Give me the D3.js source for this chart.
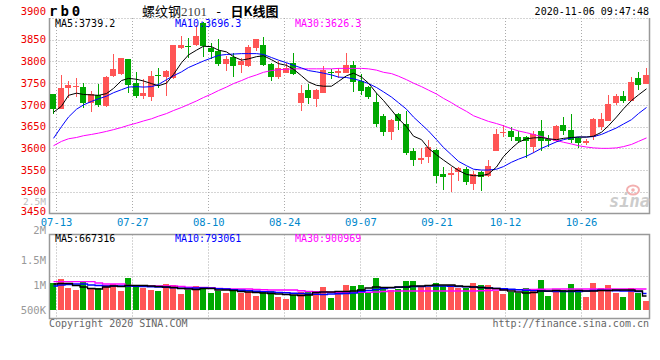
<!DOCTYPE html>
<html><head><meta charset="utf-8">
<script src="https://cdn.jsdelivr.net/npm/d3@7"></script>
<style>
html,body{margin:0;padding:0;background:#fff;}
svg{display:block;}
text{font-family:"DejaVu Sans Mono",monospace;}
</style></head>
<body>
<svg id="chart" width="660" height="360"></svg>
<script>
// ---------------- data ----------------
const dates = ["07-10",
"07-13","07-14","07-15","07-16","07-17","07-20","07-21","07-22","07-23","07-24",
"07-27","07-28","07-29","07-30","07-31","08-03","08-04","08-05","08-06","08-07",
"08-10","08-11","08-12","08-13","08-14","08-17","08-18","08-19","08-20","08-21",
"08-24","08-25","08-26","08-27","08-28","08-31","09-01","09-02","09-03","09-04",
"09-07","09-08","09-09","09-10","09-11","09-14","09-15","09-16","09-17","09-18",
"09-21","09-22","09-23","09-24","09-25","09-28","09-29","09-30","10-09",
"10-12","10-13","10-14","10-15","10-16","10-19","10-20","10-21","10-22","10-23",
"10-26","10-27","10-28","10-29","10-30","11-02","11-03","11-04","11-05","11-06"];
const open  = [3724,3691,3740,3742,3741,3705,3723,3698,3766,3770,3805,3751,3720,3718,3769,3764,3761,3830,3836,3837,
3888,3832,3824,3795,3811,3791,3790,3832,3839,3793,3764,3774,3797,3705,3734,3713,3728,3776,3773,3774,
3791,3755,3741,3707,3675,3638,3679,3657,3595,3574,3579,3597,3541,3538,3545,3552,3518,3545,3537,3595,
3636,3639,3627,3626,3603,3639,3622,3616,3654,3643,3624,3612,3626,3650,3664,3704,3721,3710,3762,3747];
const high  = [3726,3769,3755,3762,3751,3732,3749,3767,3818,3809,3806,3775,3760,3778,3784,3780,3839,3858,3855,3885,
3891,3843,3851,3813,3820,3809,3839,3852,3856,3797,3801,3797,3820,3746,3747,3736,3790,3783,3786,3819,
3802,3772,3743,3727,3680,3668,3681,3686,3600,3600,3620,3598,3558,3558,3557,3557,3547,3547,3572,3644,
3654,3650,3641,3629,3639,3666,3631,3654,3673,3679,3627,3621,3670,3681,3723,3725,3731,3765,3775,3784];
const low   = [3679,3690,3717,3719,3692,3684,3696,3696,3765,3768,3728,3715,3714,3709,3740,3721,3759,3828,3809,3835,
3811,3805,3790,3778,3764,3774,3788,3824,3790,3754,3759,3773,3769,3686,3701,3694,3727,3759,3763,3773,
3730,3722,3714,3649,3628,3619,3642,3584,3560,3564,3566,3520,3503,3499,3524,3516,3505,3501,3534,3593,
3626,3616,3612,3578,3589,3593,3604,3614,3631,3612,3601,3608,3620,3643,3663,3700,3704,3709,3735,3747];
const close = [3690,3740,3746,3743,3704,3726,3700,3765,3783,3807,3746,3721,3727,3766,3767,3778,3838,3839,3833,3858,
3836,3822,3793,3806,3790,3801,3833,3851,3792,3764,3786,3784,3770,3728,3715,3734,3780,3775,3778,3791,
3753,3733,3718,3655,3638,3666,3662,3590,3574,3578,3603,3537,3535,3543,3555,3522,3541,3535,3560,3633,
3638,3627,3617,3616,3633,3616,3617,3652,3641,3620,3612,3618,3668,3668,3703,3721,3708,3752,3746,3769];
const ma5  = [3683,3697,3722,3727,3724,3723,3722,3726,3738,3756,3761,3759,3755,3749,3744,3750,3770,3797,3815,3826,
3835,3834,3826,3822,3811,3803,3806,3811,3813,3804,3795,3791,3782,3767,3753,3745,3743,3743,3754,3767,
3773,3764,3750,3727,3710,3688,3668,3650,3628,3620,3600,3585,3573,3560,3549,3540,3537,3537,3541,3557,
3581,3600,3614,3622,3624,3625,3622,3620,3623,3625,3626,3626,3628,3637,3652,3672,3691,3710,3723,3737];
const ma10 = [3623,3650,3672,3690,3700,3708,3714,3720,3728,3735,3741,3742,3741,3742,3747,3758,3767,3776,3786,3794,
3801,3808,3814,3816,3817,3818,3818,3818,3816,3809,3803,3797,3791,3785,3779,3776,3773,3769,3764,3763,
3760,3755,3749,3740,3730,3718,3705,3690,3672,3655,3640,3620,3602,3585,3570,3560,3552,3550,3550,3552,
3558,3568,3575,3582,3590,3600,3607,3615,3620,3624,3626,3626,3627,3632,3639,3647,3656,3666,3680,3694];
const ma30 = [3606,3616,3622,3625,3629,3632,3635,3639,3643,3648,3653,3658,3663,3668,3674,3680,3687,3694,3701,3709,
3717,3725,3733,3741,3749,3756,3763,3769,3775,3779,3781,3782,3783,3783,3783,3783,3783,3783,3784,3784,
3784,3784,3783,3780,3775,3772,3766,3758,3750,3742,3734,3725,3715,3705,3695,3685,3675,3668,3662,3657,
3652,3645,3640,3636,3632,3627,3622,3618,3614,3610,3606,3603,3601,3600,3600,3601,3604,3609,3616,3624];
const volume = [1046000,1120000,946000,900000,1080000,920000,946000,1000000,1020000,880000,
1146000,1000000,946000,900000,880000,1020000,1000000,820000,900000,980000,
953000,847000,880000,847000,900000,833000,853000,787000,880000,880000,
767000,720000,800000,867000,867000,867000,967000,747000,880000,1000000,
980000,1000000,867000,1146000,946000,900000,913000,1080000,1080000,967000,
967000,1033000,980000,1000000,946000,946000,1033000,1000000,1000000,880000,
820000,867000,847000,933000,913000,1100000,787000,867000,900000,1020000,
900000,767000,1046000,933000,1000000,833000,767000,933000,847000,687000];
const volMa5 = [1020000,1030000,1030000,990000,960000,930000,920000,960000,980000,970000,
990000,990000,990000,980000,970000,960000,950000,930000,920000,910000,
930000,930000,900000,900000,890000,870000,860000,850000,840000,830000,
820000,810000,800000,790000,800000,850000,860000,860000,870000,870000,
880000,900000,940000,960000,950000,950000,960000,960000,980000,980000,
990000,1000000,1000000,1000000,980000,970000,960000,950000,940000,930000,
900000,880000,860000,840000,850000,880000,880000,890000,880000,880000,
890000,880000,880000,890000,890000,900000,900000,900000,880000,780000];
const volMa10 = [980000,1000000,1010000,1020000,1020000,1000000,990000,980000,980000,980000,
980000,975000,970000,965000,960000,955000,945000,935000,935000,940000,
940000,935000,925000,920000,905000,895000,885000,875000,867000,860000,
850000,845000,835000,830000,820000,815000,810000,820000,825000,830000,
840000,870000,890000,910000,930000,945000,955000,960000,967000,970000,
980000,980000,980000,975000,970000,965000,960000,950000,940000,933000,
925000,915000,905000,895000,887000,880000,875000,870000,867000,867000,
870000,880000,890000,895000,890000,885000,880000,880000,870000,830000];
const volMa30 = [1067000,1067000,1067000,1067000,1067000,1067000,1040000,1020000,1020000,1020000,
990000,980000,980000,980000,980000,980000,980000,970000,955000,953000,
950000,945000,930000,925000,920000,920000,920000,910000,905000,900000,
900000,900000,900000,885000,870000,867000,860000,855000,853000,853000,
853000,853000,853000,860000,870000,880000,880000,880000,880000,880000,
880000,880000,880000,880000,880000,880000,880000,885000,890000,900000,
905000,907000,907000,910000,913000,915000,918000,920000,920000,920000,
920000,920000,920000,920000,920000,920000,920000,920000,920000,920000];
const priceTicks = [3900,3850,3800,3750,3700,3650,3600,3550,3500,3450];
const dateTicks = ["07-13","07-27","08-10","08-24","09-07","09-21","10-12","10-26"];
const volTicks = [2500000,2000000,1500000,1000000,500000];
const volTickLabels = ["2.5M","2M","1.5M","1M","500K"];
const legendMain = [{k:"MA5:3739.2",c:"#000"},{k:"MA10:3696.3",c:"#0000ff"},{k:"MA30:3626.3",c:"#ff00ff"}];
const legendVol  = [{k:"MA5:667316",c:"#000"},{k:"MA10:793061",c:"#0000ff"},{k:"MA30:900969",c:"#ff00ff"}];

// ---------------- layout ----------------
const svg = d3.select("#chart");
const L = 49.5, R = 649.5, T = 18, B = 213.5;
const VT = 234.5, VB = 318.5, VBase = 310;
const RED = "#ff5555", GREEN = "#00a800", GRID = "#aaaaaa", AXIS = "#999999";
const N = dates.length;
const idx = d3.range(N);

const x = d3.scaleBand().domain(idx).range([L, R]).paddingInner(0.2).paddingOuter(0.1);
const xGrid = d3.scaleLinear().domain([0, N - 1]).range([49, 650]);
const y = d3.scaleLinear().domain([3450, 3900]).range([B, T]);
const yv = d3.scaleLinear().domain([500000, 2000000]).range([VBase, VT + 0.5]);
const cx = i => Math.round(x(i)) + 3;

// ---------- header ----------
svg.append("text").attr("x", 49).attr("y", 16).attr("font-size", 14).attr("font-weight", "bold")
  .attr("letter-spacing", 3).attr("fill", "#000").text("rb0");
const title = svg.append("text").attr("x", 142).attr("y", 16).attr("font-size", 13);
title.append("tspan").attr("font-family", "Noto Sans CJK SC").attr("fill", "#000").text("螺纹钢");
title.append("tspan").attr("font-family", "Liberation Serif").attr("fill", "#444").attr("font-size", 13).text("2101");
title.append("tspan").attr("font-family", "DejaVu Sans Mono").attr("fill", "#000").text(" - ");
title.append("tspan").attr("font-family", "Noto Sans CJK SC").attr("fill", "#000").attr("font-weight", "bold").text("日K线图");
svg.append("text").attr("x", 649).attr("y", 15).attr("font-size", 10).attr("text-anchor", "end")
  .attr("fill", "#000").text("2020-11-06 09:47:48");

// ---------- main panel grid ----------
const gMain = svg.append("g");
gMain.selectAll("line.h").data(priceTicks.filter(v => v > 3450 && v < 3900)).join("line")
  .attr("x1", L).attr("x2", R).attr("y1", d => Math.round(y(d)) + 0.5).attr("y2", d => Math.round(y(d)) + 0.5)
  .attr("stroke", GRID).attr("stroke-dasharray", "1,2");
const gx = d => Math.floor(xGrid(dates.indexOf(d))) + 0.5;
gMain.selectAll("line.v").data(dateTicks).join("line")
  .attr("x1", gx).attr("x2", gx).attr("y1", T).attr("y2", B)
  .attr("stroke", GRID).attr("stroke-dasharray", "1,2");
gMain.append("line").attr("x1", L).attr("x2", R).attr("y1", T + 0.5).attr("y2", T + 0.5)
  .attr("stroke", GRID).attr("stroke-dasharray", "1,2");
gMain.append("path").attr("d", `M${L},${T}V${B}H${R}V${T}`).attr("fill", "none").attr("stroke", AXIS).attr("stroke-width", 1.5);

// price labels (top one lifted above the frame, bottom one nudged up)
svg.selectAll("text.py").data(priceTicks).join("text")
  .attr("x", 46).attr("y", (d, i) => (i === 0 ? y(d) - 7 : (i === priceTicks.length - 1 ? y(d) - 2.5 : y(d))))
  .attr("dy", "0.35em").attr("text-anchor", "end").attr("font-size", 10.5).attr("fill", "#ee0000").text(d => d);

// date labels
svg.selectAll("text.dx").data(dateTicks).join("text")
  .attr("x", d => xGrid(dates.indexOf(d))).attr("y", 226).attr("text-anchor", "middle")
  .attr("font-size", 10.5).attr("fill", "#0088cc").text(d => d);

// watermark
const wm = svg.append("g");
wm.append("ellipse").attr("cx", 633).attr("cy", 190).attr("rx", 6).attr("ry", 4.5)
  .attr("fill", "none").attr("stroke", "#f3b0b0").attr("stroke-width", 2);
wm.append("circle").attr("cx", 633).attr("cy", 190).attr("r", 1.8).attr("fill", "#f3b0b0");
wm.append("text").attr("x", 650).attr("y", 207).attr("text-anchor", "end").attr("font-family", "DejaVu Sans")
  .attr("font-style", "italic").attr("font-weight", "bold").attr("font-size", 17).attr("fill", "#cccccc").text("sina");

// ---------- candles ----------
const gC = svg.append("g").attr("shape-rendering", "crispEdges");
idx.forEach(i => {
  const up = close[i] >= open[i];
  const col = up ? RED : GREEN;
  const bx = Math.round(x(i));
  const yh = Math.round(y(high[i])), yl = Math.round(y(low[i]));
  gC.append("rect").attr("x", bx + 3).attr("width", 1).attr("y", yh).attr("height", Math.max(1, yl - yh)).attr("fill", col);
  const yt = Math.round(y(Math.max(open[i], close[i]))), yb = Math.round(y(Math.min(open[i], close[i])));
  gC.append("rect").attr("x", bx).attr("width", 6).attr("y", yt).attr("height", Math.max(1, yb - yt)).attr("fill", col);
});

// ---------- MA lines ----------
const mkLine = (arr, yS) => d3.line().x((d, i) => cx(i) + 0.5).y(d => yS(d))(arr);
[[ma30, "#ff00ff"], [ma10, "#0000ff"], [ma5, "#000000"]].forEach(([a, c]) => {
  svg.append("path").attr("d", mkLine(a, y)).attr("fill", "none").attr("stroke", c).attr("stroke-width", 1);
});

legendMain.forEach((l, k) => {
  svg.append("text").attr("x", 55 + k * 120).attr("y", 27).attr("font-size", 10).attr("fill", l.c).text(l.k);
});

// ---------- volume panel ----------
const gV = svg.append("g");
gV.append("line").attr("x1", L).attr("x2", R).attr("y1", 276.5).attr("y2", 276.5)
  .attr("stroke", GRID).attr("stroke-dasharray", "1,2");
gV.selectAll("line.vv").data(dateTicks).join("line")
  .attr("x1", gx).attr("x2", gx).attr("y1", VT).attr("y2", VB + 2)
  .attr("stroke", GRID).attr("stroke-dasharray", "1,2");
gV.append("rect").attr("x", L).attr("y", VT).attr("width", R - L).attr("height", VB - VT)
  .attr("fill", "none").attr("stroke", AXIS).attr("stroke-width", 1.5);

const gB = svg.append("g").attr("shape-rendering", "crispEdges");
idx.forEach(i => {
  const col = close[i] >= open[i] ? RED : GREEN;
  const top = Math.round(yv(volume[i]));
  gB.append("rect").attr("x", Math.round(x(i))).attr("width", 6).attr("y", top)
    .attr("height", VBase - top).attr("fill", col);
});
const stepLine = arr => d3.line().curve(d3.curveStep).x((d, i) => cx(i) + 0.5).y(d => yv(d))(arr);
[[volMa30, "#ff00ff"], [volMa10, "#0000ff"], [volMa5, "#000000"]].forEach(([a, c]) => {
  svg.append("path").attr("d", stepLine(a)).attr("fill", "none").attr("stroke", c).attr("stroke-width", 1.3);
});

svg.selectAll("text.vy").data(volTicks).join("text")
  .attr("x", 46).attr("y", d => (d > 2000000 ? yv(d) - 8 : (d === 2000000 ? yv(d) - 5 : yv(d)))).attr("dy", "0.35em")
  .attr("text-anchor", "end").attr("font-size", d => d > 2000000 ? 9.5 : 10.5)
  .attr("fill", d => d > 2000000 ? "#bbbbbb" : "#999999")
  .text((d, i) => volTickLabels[i]);

legendVol.forEach((l, k) => {
  svg.append("text").attr("x", 55 + k * 120).attr("y", 242).attr("font-size", 10).attr("fill", l.c).text(l.k);
});

// footer
svg.append("text").attr("x", 49).attr("y", 327).attr("font-size", 10).attr("fill", "#666").text("Copyright 2020 SINA.COM");
svg.append("text").attr("x", 649).attr("y", 327).attr("font-size", 10).attr("text-anchor", "end")
  .attr("fill", "#666").text("http://finance.sina.com.cn");
</script>
</body></html>
